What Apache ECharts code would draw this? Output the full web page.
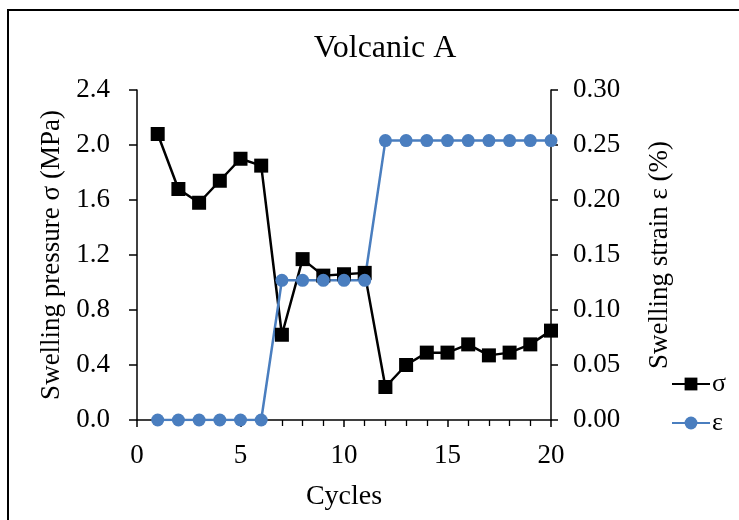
<!DOCTYPE html>
<html>
<head>
<meta charset="utf-8">
<script src="https://cdn.jsdelivr.net/npm/echarts@6/dist/echarts.min.js"></script>
<style>html,body{margin:0;padding:0;background:#fff}#c{width:739px;height:520px}</style>
</head>
<body>
<div id="c"></div>
<script>
const cycles = [1,2,3,4,5,6,7,8,9,10,11,12,13,14,15,16,17,18,19,20];
const sigma = [2.08,1.68,1.58,1.74,1.90,1.85,0.62,1.17,1.05,1.06,1.07,0.24,0.40,0.49,0.49,0.55,0.47,0.49,0.55,0.65];
const epsilon = [0,0,0,0,0,0,0.127,0.127,0.127,0.127,0.127,0.254,0.254,0.254,0.254,0.254,0.254,0.254,0.254,0.254];
const leftTicks = {min:0, max:2.4, interval:0.4};
const rightTicks = {min:0, max:0.30, interval:0.05};
const xTicks = {min:0, max:20, interval:5};

const FONT = 'Liberation Serif';
const chart = echarts.init(document.getElementById('c'), null, {renderer:'canvas'});
const axisLine = {show:true, onZero:false, lineStyle:{color:'#000', width:1.5}};
chart.setOption({
  animation:false,
  backgroundColor:'#fff',
  graphic:[{type:'rect', shape:{x:8,y:10,width:760,height:540}, style:{fill:'none', stroke:'#000', lineWidth:2}}],
  title:{text:'Volcanic A', left:380, top:28, textAlign:'center',
    textStyle:{fontFamily:FONT, fontSize:32, fontWeight:'normal', color:'#000'}},
  grid:{left:137, right:188, top:90, bottom:100},
  legend:{orient:'vertical', left:671, top:371, itemWidth:38, itemHeight:16, itemGap:13,
    padding:0, textStyle:{fontFamily:FONT, fontSize:26, lineHeight:26, color:'#000', padding:[0,0,0,-3]},
    data:['σ','ε']},
  xAxis:{type:'value', min:xTicks.min, max:xTicks.max, interval:xTicks.interval,
    name:'Cycles', nameLocation:'middle', nameGap:63,
    nameTextStyle:{fontFamily:FONT, fontSize:28, color:'#000'},
    axisLine:axisLine,
    axisTick:{show:true, inside:false, length:7, lineStyle:{color:'#000', width:1.5}},
    minorTick:{show:true, splitNumber:5, length:6, lineStyle:{color:'#000', width:1.3}},
    axisLabel:{fontFamily:FONT, fontSize:27, color:'#000', margin:22},
    splitLine:{show:false}},
  yAxis:[
    {type:'value', position:'left', min:leftTicks.min, max:leftTicks.max, interval:leftTicks.interval,
      name:'Swelling pressure σ (MPa)', nameLocation:'middle', nameGap:72,
      nameTextStyle:{fontFamily:FONT, fontSize:27, color:'#000'},
      axisLine:axisLine,
      axisTick:{show:true, inside:false, length:8, lineStyle:{color:'#000', width:1.5}},
      axisLabel:{fontFamily:FONT, fontSize:27, color:'#000', margin:27, formatter:v=>v.toFixed(1)},
      splitLine:{show:false}},
    {type:'value', position:'right', min:rightTicks.min, max:rightTicks.max, interval:rightTicks.interval,
      name:'Swelling strain ε (%)', nameLocation:'middle', nameGap:95,
      nameTextStyle:{fontFamily:FONT, fontSize:27, color:'#000'},
      axisLine:axisLine,
      axisTick:{show:true, inside:false, length:7, lineStyle:{color:'#000', width:1.5}},
      axisLabel:{fontFamily:FONT, fontSize:27, color:'#000', margin:22, formatter:v=>v.toFixed(2)},
      splitLine:{show:false}}
  ],
  series:[
    {name:'σ', type:'line', yAxisIndex:0, data:cycles.map((c,i)=>[c,sigma[i]]),
      symbol:'rect', symbolSize:14, itemStyle:{color:'#000'}, lineStyle:{color:'#000', width:2.5}},
    {name:'ε', type:'line', yAxisIndex:1, data:cycles.map((c,i)=>[c,epsilon[i]]),
      symbol:'circle', symbolSize:13, itemStyle:{color:'#4a7ebf'}, lineStyle:{color:'#4a7ebf', width:2.5}}
  ]
});
</script>
</body>
</html>
